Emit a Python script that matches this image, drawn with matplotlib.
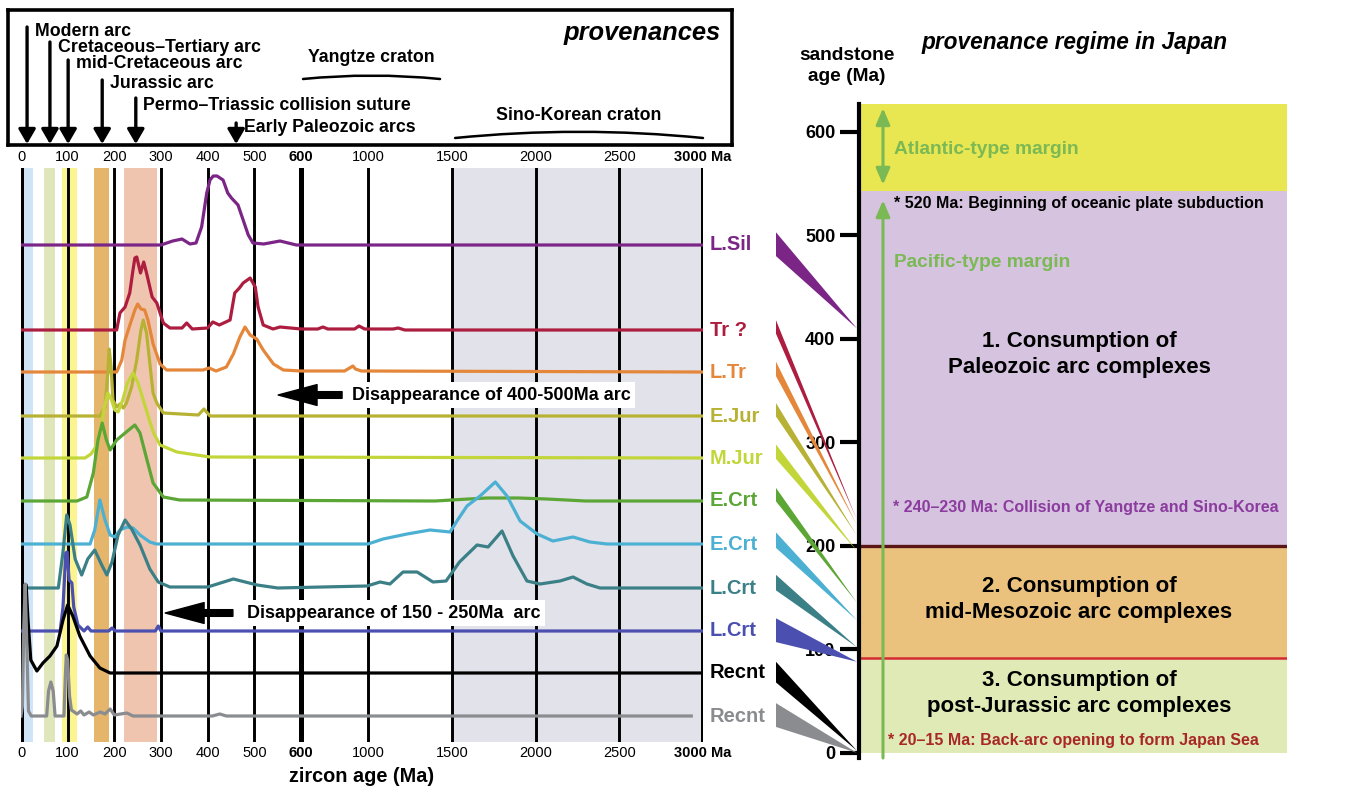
import numpy as np
import matplotlib
matplotlib.use("Agg")
import matplotlib.pyplot as plt
from matplotlib.patches import Polygon

plt.rcParams['font.family'] = ['Liberation Sans', 'DejaVu Sans']

# ---------------- data ----------------
# zircon age axis (Ma)
grid_ages = [0, 100, 200, 300, 400, 500, 600, 1000, 1500, 2000, 2500, 3000]
grid_labels = ['0', '100', '200', '300', '400', '500', '600', '1000', '1500', '2000', '2500', '3000 Ma']
thick_ages = [0, 600, 3000]

# shaded provenance age bands (Ma)
band_ranges = [(6, 26), (49, 73), (88, 120), (156, 189), (221, 291), (1500, 3000)]
band_colors = ['#cfe4f7', '#dfe6b9', '#fbf490', '#e6b56c', '#f0c5af', '#e2e2ea']

# provenance arrows in the header (age, label)
arc_ages = [13, 62, 101, 174, 246, 461]
arc_names = ['Modern arc', 'Cretaceous\u2013Tertiary arc', 'mid-Cretaceous arc', 'Jurassic arc',
             'Permo\u2013Triassic collision suture', 'Early Paleozoic arcs']
yangtze_range = [612, 1430]
sino_korean_range = [1520, 3000]

# sandstone samples (top to bottom)
sample_names = ['L.Sil', 'Tr ?', 'L.Tr', 'E.Jur', 'M.Jur', 'E.Crt', 'E.Crt', 'L.Crt', 'L.Crt', 'Recnt', 'Recnt']
sample_colors = ['#7b2687', '#ad1d3f', '#e4873a', '#b7b233', '#c2d63a', '#5ca636',
                 '#4cb0d3', '#3c8087', '#4a4fb0', '#000000', '#8a8c90']
# depositional age of each sandstone (Ma)
sandstone_age = [410, 225, 220, 210, 195, 145, 128, 102, 88, 2, 0]

# age spectra: (zircon age, relative frequency)
lsil_age = [0, 300, 325, 345, 362, 375, 387, 398, 405, 412, 420, 433, 443, 451, 465, 476, 487, 497, 520, 555, 590, 3000]
lsil_f = [0, 0, 4, 6, 1, 2, 18, 52, 65, 69, 69, 65, 52, 47, 40, 25, 10, 2, 1, 4, 0, 0]

tr_age = [0, 205, 212, 223, 233, 240, 244, 248, 256, 263, 269, 281, 291, 305, 319, 345, 355, 367, 400, 411,
          425, 448, 458, 468, 476, 491, 502, 508, 519, 540, 555, 600, 700, 731, 760, 920, 946, 980, 1150,
          1180, 1220, 3000]
tr_f = [0, 0, 17, 23, 37, 60, 72, 73, 57, 68, 57, 33, 27, 7, 2, 2, 7, 1, 2, 8,
        5, 10, 37, 42, 47, 52, 43, 23, 5, 1, 3, 1, 1, 3, 1, 1, 4, 1, 1,
        2, 0, 0]

ltr_age = [0, 205, 216, 223, 234, 244, 250, 257, 265, 272, 283, 298, 312, 390, 403, 418, 440, 455, 469, 480,
           491, 505, 519, 541, 562, 600, 860, 900, 910, 925, 960, 3000]
ltr_f = [0, 0, 12, 32, 48, 62, 68, 63, 62, 52, 28, 8, 2, 2, 4, 1, 5, 18, 35, 45,
         37, 33, 22, 8, 2, 1, 1, 5, 6, 3, 1, 0]

ejur_age = [0, 169, 180, 186, 189, 193, 197, 205, 212, 219, 226, 237, 248, 257, 262, 269, 276, 283, 291, 305,
            380, 392, 405, 3000]
ejur_f = [0, 0, 9, 43, 67, 49, 16, 9, 12, 8, 13, 29, 56, 86, 96, 83, 53, 23, 13, 3,
          1, 7, 0, 0]

mjur_age = [0, 137, 150, 160, 170, 178, 186, 194, 201, 208, 218, 228, 240, 250, 262, 275, 284, 298, 334, 405, 3000]
mjur_f = [0, 0, 4, 11, 25, 50, 65, 58, 48, 46, 58, 75, 85, 76, 58, 38, 25, 13, 6, 1, 0]

ecrt1_age = [0, 120, 141, 155, 165, 174, 183, 191, 205, 223, 244, 255, 270, 283, 305, 340, 1400, 1600, 1711,
             1900, 2067, 2300, 3000]
ecrt1_f = [0, 0, 4, 28, 61, 78, 61, 51, 61, 68, 76, 68, 41, 18, 4, 1, 0, 2, 3,
           3, 2, 0, 0]

ecrt2_age = [0, 148, 158, 169, 180, 191, 201, 212, 227, 240, 255, 276, 290, 1000, 1090, 1233, 1370, 1490,
             1531, 1591, 1669, 1760, 1830, 1908, 2010, 2104, 2224, 2325, 2427, 3000]
ecrt2_f = [0, 0, 14, 44, 24, 9, 7, 14, 17, 16, 9, 2, 0, 0, 5, 10, 14, 12,
           23, 38, 48, 62, 48, 23, 10, 3, 7, 2, 0, 0]

lcrt1_age = [0, 80, 90, 98, 105, 116, 130, 143, 158, 173, 184, 195, 208, 223, 237, 255, 276, 294, 319, 400,
             455, 506, 550, 994, 1072, 1131, 1209, 1293, 1388, 1466, 1546, 1651, 1717, 1800, 1866, 1949,
             2027, 2146, 2224, 2307, 2385, 3000]
lcrt1_f = [0, 0, 36, 73, 63, 29, 13, 29, 38, 23, 13, 26, 53, 68, 59, 43, 19, 6, 1, 1,
           9, 3, 0, 2, 6, 4, 16, 16, 6, 7, 26, 43, 41, 57, 32, 7,
           4, 7, 11, 4, 0, 0]

lcrt2_age = [0, 84, 90, 96, 99, 103, 109, 113, 122, 135, 143, 150, 188, 195, 202, 288, 294, 300, 3000]
lcrt2_f = [0, 0, 24, 78, 79, 51, 48, 24, 6, 0, 4, 0, 0, 3, 0, 0, 5, 0, 0]

rec1_age = [0, 4, 11, 15, 21, 34, 47, 62, 77, 90, 100, 111, 126, 148, 169, 191, 3000]
rec1_f = [80, 86, 88, 53, 13, 2, 10, 17, 27, 53, 68, 57, 37, 17, 5, 0, 0]

rec2_age = [0, 3, 6, 9, 12, 16, 22, 55, 59, 64, 69, 73, 92, 95, 97, 100, 104, 108, 120, 128, 135, 146,
            155, 170, 180, 191, 200, 227, 240, 410, 426, 440, 2930]
rec2_f = [0, 10, 90, 132, 80, 5, 0, 0, 25, 34, 25, 0, 0, 40, 61, 56, 20, 6, 2, 5, 1, 4,
          1, 4, 2, 7, 1, 3, 0, 0, 2, 0, 0]

spectra = [(lsil_age, lsil_f), (tr_age, tr_f), (ltr_age, ltr_f), (ejur_age, ejur_f), (mjur_age, mjur_f),
           (ecrt1_age, ecrt1_f), (ecrt2_age, ecrt2_f), (lcrt1_age, lcrt1_f), (lcrt2_age, lcrt2_f),
           (rec1_age, rec1_f), (rec2_age, rec2_f)]

# provenance regimes in Japan (sandstone age, Ma)
regime_ranges = [(0, 92), (92, 200), (200, 543), (543, 627)]
regime_colors = ['#e0eab6', '#eac27e', '#d5c3df', '#e8e651']
regime_titles = ['3. Consumption of\npost-Jurassic arc complexes',
                 '2. Consumption of\nmid-Mesozoic arc complexes',
                 '1. Consumption of\nPaleozoic arc complexes']
regime_title_age = [57, 148, 385]

# ---------------- layout (pixels of a 1363 x 790 figure) ----------------
W, H = 1363, 790
GREEN = '#7bb955'

# wedge left ends, in sandstone-age units of the right axis (top, bottom)
wedge_ends = [(503, 480), (418, 405), (378, 364), (338, 325), (298, 284), (256, 243),
              (213, 198), (172, 157), (130, 107), (88, 68), (48, 25)]
# vertical offset of each spectrum baseline in the left panel
baselines = [497, 412, 370, 326, 284, 241, 198, 154, 111, 69, 26]

K = 0.1675 / 0.4667   # compression of the >600 Ma part of the age axis


def fwd(x):
  x = np.asarray(x, dtype=float)
  return np.where(x <= 600, x, 600 + (x - 600) * K)


def inv(t):
  t = np.asarray(t, dtype=float)
  return np.where(t <= 600, t, 600 + (t - 600) / K)


def box(l, t, r, b):
  """Figure rectangle from pixel edges."""
  return [l / W, 1 - b / H, (r - l) / W, (b - t) / H]


fig = plt.figure(figsize=(W / 100, H / 100), dpi=100)

# ---------------- left panel: zircon age spectra ----------------
ax = fig.add_axes(box(21, 168, 703, 742))
ax.set_xscale('function', functions=(fwd, inv))
ax.set_xlim(0, 3000)
ax.set_ylim(0, 574)
for s in ax.spines.values():
  s.set_visible(False)
ax.set_yticks([])

for (a, b), c in zip(band_ranges, band_colors):
  ax.axvspan(a, b, color=c, lw=0, zorder=0)
for g in grid_ages:
  ax.axvline(g, color='black', lw=3.6 if g in thick_ages else 2.1, zorder=1)

for (ages, f), base, col, name in zip(spectra, baselines, sample_colors, sample_names):
  ax.plot(ages, base + np.asarray(f), color=col, lw=2.3, zorder=3, solid_joinstyle='round')
  ax.annotate(name, xy=(3000, base), xytext=(5, 0), textcoords='offset points', va='center',
              ha='left', color=col, fontsize=14.5, fontweight='bold', annotation_clip=False)

ax.set_xticks(grid_ages)
ax.set_xticklabels(grid_labels)
ax.tick_params(axis='x', length=0, labeltop=True, labelbottom=True, labelsize=10.5, pad=3)
for tick, g in zip(ax.xaxis.get_major_ticks(), grid_ages):
  if g in (600, 3000):
    tick.label1.set_fontweight('bold')
    tick.label2.set_fontweight('bold')
ax.set_xlabel('zircon age (Ma)', fontsize=14.3, fontweight='bold', labelpad=5)

# "disappearance" arrows
arrow_kw = dict(arrowstyle='simple,head_length=1.4,head_width=0.75,tail_width=0.24',
                color='black', mutation_scale=20, shrinkA=0, shrinkB=0)
ax.annotate('', xy=(551, 347), xytext=(845, 347), arrowprops=arrow_kw, zorder=5)
ax.text(904, 347, 'Disappearance of 400-500Ma arc', va='center', ha='left', fontsize=13,
        fontweight='bold', zorder=5, bbox=dict(fc='white', ec='none', pad=3))
ax.annotate('', xy=(309, 129), xytext=(454, 129), arrowprops=arrow_kw, zorder=5)
ax.text(484, 129, 'Disappearance of 150 - 250Ma  arc', va='center', ha='left', fontsize=13,
        fontweight='bold', zorder=5, bbox=dict(fc='white', ec='none', pad=3))

# ---------------- header box: provenances ----------------
hx = fig.add_axes(box(8, 10, 732, 145))
hx.set_xscale('function', functions=(fwd, inv))
px_per = (703 - 21) / float(fwd(3000))
hx.set_xlim(float(inv((8 - 21) / px_per)), float(inv((732 - 21) / px_per)))
hx.set_ylim(145, 10)
hx.set_xticks([])
hx.set_yticks([])
for s in hx.spines.values():
  s.set_linewidth(2.6)

arrow_tops = [27, 42, 60, 80, 98, 123]
label_y = [32, 47, 63, 84, 106, 128]
for age, name, top, ly in zip(arc_ages, arc_names, arrow_tops, label_y):
  hx.annotate('', xy=(age, 144), xytext=(age, top),
              arrowprops=dict(arrowstyle='-|>,head_length=0.55,head_width=0.32', lw=2.4,
                              color='black', mutation_scale=16, shrinkA=0, shrinkB=0))
  hx.annotate(name, xy=(age, ly), xytext=(5.5, 0), textcoords='offset points', va='center',
              ha='left', fontsize=12.8, fontweight='bold')

hx.text(float(inv(np.mean(fwd(yangtze_range)))), 57, 'Yangtze craton', ha='center', va='center',
        fontsize=12.8, fontweight='bold')
hx.annotate('', xy=(yangtze_range[1], 79), xytext=(yangtze_range[0], 79),
            arrowprops=dict(arrowstyle='-', lw=1.8, color='black',
                            connectionstyle='arc3,rad=-0.05', shrinkA=0, shrinkB=0))
hx.text(float(inv(np.mean(fwd(sino_korean_range)))), 115, 'Sino-Korean craton', ha='center',
        va='center', fontsize=12.8, fontweight='bold')
hx.annotate('', xy=(sino_korean_range[1], 138), xytext=(sino_korean_range[0], 138),
            arrowprops=dict(arrowstyle='-', lw=1.8, color='black',
                            connectionstyle='arc3,rad=-0.05', shrinkA=0, shrinkB=0))
hx.text(0.985, 0.83, 'provenances', transform=hx.transAxes, ha='right', va='center',
        fontsize=18.4, fontweight='bold', style='italic')

# ---------------- right panel: provenance regime ----------------
rx = fig.add_axes(box(776, 104, 1287, 758))
rx.set_xlim(-83, 428)
rx.set_ylim(-5, 627)
for side in ('top', 'right', 'bottom'):
  rx.spines[side].set_visible(False)
rx.spines['left'].set_position(('data', 0))
rx.spines['left'].set_linewidth(3)
rx.set_xticks([])
rx.set_yticks(range(0, 700, 100))
rx.tick_params(axis='y', direction='out', length=14, width=3, labelsize=13, pad=3)
for t in rx.get_yticklabels():
  t.set_fontweight('bold')

for (lo, hi), c in zip(regime_ranges, regime_colors):
  rx.fill_between([2, 428], lo, hi, color=c, lw=0, zorder=0)
rx.plot([2, 428], [200, 200], color='#5a1616', lw=2.4, zorder=1)
rx.plot([2, 428], [92, 92], color='#d42a34', lw=1.8, zorder=1)

for y, txt in zip(regime_title_age, regime_titles):
  rx.text(220, y, txt, ha='center', va='center', fontsize=16, fontweight='bold', linespacing=1.3)

# wedges linking each sample to its sandstone age
for (top, bot), tip, col in zip(wedge_ends, sandstone_age, sample_colors):
  rx.add_patch(Polygon([(-83, top), (-83, bot), (-2, tip)], closed=True, fc=col, ec='none',
                       clip_on=False, zorder=2))

# margin arrows
rx.annotate('', xy=(24, 623), xytext=(24, 549),
            arrowprops=dict(arrowstyle='<|-|>,head_length=0.7,head_width=0.3', lw=2.2, color=GREEN,
                            mutation_scale=14, shrinkA=0, shrinkB=0))
rx.annotate('', xy=(24, 534), xytext=(24, -5),
            arrowprops=dict(arrowstyle='-|>,head_length=0.7,head_width=0.3', lw=2.2, color=GREEN,
                            mutation_scale=14, shrinkA=0, shrinkB=0))
rx.text(35, 583, 'Atlantic-type margin', color=GREEN, fontsize=13.8, fontweight='bold', va='center')
rx.text(35, 474, 'Pacific-type margin', color=GREEN, fontsize=13.8, fontweight='bold', va='center')
rx.text(35, 531, '* 520 Ma: Beginning of oceanic plate subduction', fontsize=11.5,
        fontweight='bold', va='center')
rx.text(34, 237, '* 240\u2013230 Ma: Collision of Yangtze and Sino-Korea', color='#8b3c9e',
        fontsize=11.5, fontweight='bold', va='center')
rx.text(29, 12, '* 20\u201315 Ma: Back-arc opening to form Japan Sea', color='#a82828',
        fontsize=11.5, fontweight='bold', va='center')

fig.text(847 / W, 1 - 66 / H, 'sandstone\nage (Ma)', ha='center', va='center', fontsize=13.8,
         fontweight='bold', linespacing=1.35)
fig.text(1075 / W, 1 - 42 / H, 'provenance regime in Japan', ha='center', va='center',
         fontsize=16.3, fontweight='bold', style='italic')

fig.savefig('out.png', dpi=100)
